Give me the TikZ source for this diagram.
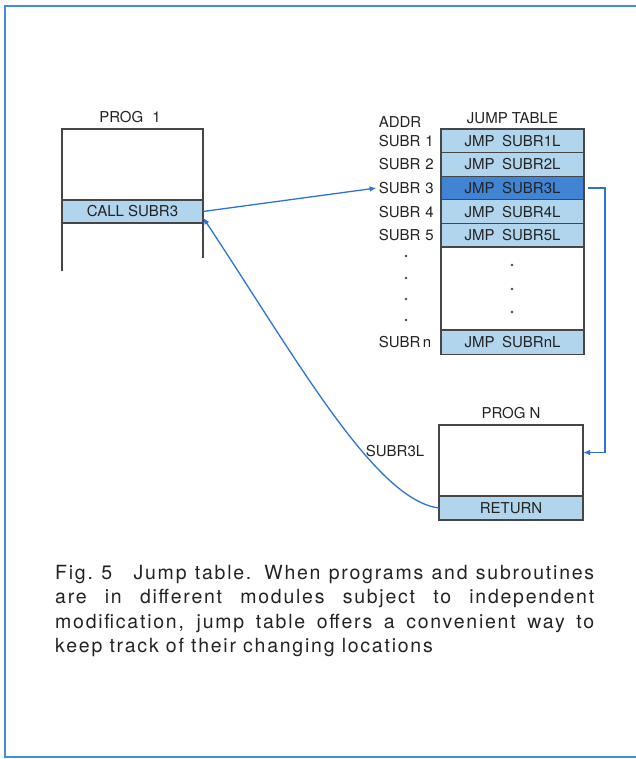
\documentclass[tikz,border=0pt]{standalone}
\usepackage{fontspec}
\setmainfont{TeX Gyre Heros}
\newfontfamily\capfont[LetterSpace=9]{TeX Gyre Heros}
\usetikzlibrary{arrows.meta, positioning}
\definecolor{frameblue}{RGB}{70,140,222}
\definecolor{linkblue}{RGB}{45,115,215}
\definecolor{cellbg}{RGB}{178,213,238}
\definecolor{cellhot}{RGB}{66,132,212}
\definecolor{rulegray}{RGB}{70,70,70}
\definecolor{inkgray}{RGB}{35,35,35}
\newcommand\diagfont{\fontsize{15}{18}\selectfont}
\tikzset{
  cell/.style={rectangle, draw=rulegray, line width=1.2pt, fill=cellbg, minimum width=143pt, minimum height=23.6pt, inner sep=0pt, outer sep=0pt, font=\diagfont, text=inkgray},
  emptycell/.style={cell, fill=white},
  addr/.style={font=\diagfont, text=inkgray, text width=56pt, align=left, inner sep=2pt},
  head/.style={font=\diagfont, text=inkgray, inner sep=5pt},
  wall/.style={draw=rulegray, line width=1.2pt},
  link/.style={-{Latex[length=7pt, width=5.5pt]}, line width=1.3pt, color=linkblue},
  caption/.style={text width=539pt, align=justify, inner sep=0pt, text=inkgray, font=\capfont\fontsize{19.5}{24.3}\selectfont},
}

\begin{document}
\begin{tikzpicture}[x=1pt, y=-1pt]
  \useasboundingbox (0,0) rectangle (636,759);
  \draw[frameblue, line width=2.5pt] (636,6) -- (5,6) -- (5,757) -- (636,757);

  % calling program
  \node[head] (prog1) at (130,117) {PROG\hspace{0.6em}1};
  \draw[wall] (62,271) -- (62,129) -- (203,129) -- (203,258);
  \node[cell, minimum width=141pt, minimum height=23pt] (call) at (132.5,211.5) {CALL SUBR3};

  % jump table
  \node[cell] (j1) at (512.5,140.8) {JMP\hspace{0.5em}SUBR1L};
  \node[cell, below=0pt of j1] (j2) {JMP\hspace{0.5em}SUBR2L};
  \node[cell, fill=cellhot, below=0pt of j2] (j3) {JMP\hspace{0.5em}SUBR3L};
  \node[cell, below=0pt of j3] (j4) {JMP\hspace{0.5em}SUBR4L};
  \node[cell, below=0pt of j4] (j5) {JMP\hspace{0.5em}SUBR5L};
  \node[emptycell, minimum height=83pt, below=0pt of j5] (jgap) {};
  \node[cell, minimum height=24.5pt, below=0pt of jgap] (jn) {JMP\hspace{0.5em}SUBRnL};
  \node[head, above=0pt of j1] (jhead) {JUMP TABLE};

  \node[addr, left=4pt of j1] (a1) {SUBR~1};
  \node[addr, left=4pt of j2] (a2) {SUBR~2};
  \node[addr, left=4pt of j3] (a3) {SUBR~3};
  \node[addr, left=4pt of j4] (a4) {SUBR~4};
  \node[addr, left=4pt of j5] (a5) {SUBR~5};
  \node[addr, left=4pt of jn] (an) {SUBR\,n};
  \node[addr, above=3pt of a1] (ahead) {ADDR};
  \foreach \y in {256,278,299,320} \fill[rulegray] (406,\y) circle (1.3pt);
  \foreach \y in {265,289,312} \fill[rulegray] (512,\y) circle (1.3pt);

  % called module
  \node[emptycell, minimum width=144pt, minimum height=71pt] (pn) at (511,460.5) {};
  \node[cell, minimum width=144pt, minimum height=24pt, below=0pt of pn] (ret) {RETURN};
  \node[head, above=1pt of pn] (progn) {PROG N};
  \node[head] (s3l) at (395,451) {SUBR3L};

  \draw[link] (call.east) -- (a3.west);
  \draw[link] ([xshift=4pt]j3.east) -- ++(17,0) |- ([yshift=8pt]pn.east);
  \draw[link] (ret.west) .. controls +(-64,-8) and +(94,142) .. ([yshift=-6pt]call.east);

  \node[caption, anchor=north west] (cap) at (55,565) {Fig.~5\hspace{1.1em}Jump table. When programs and subroutines\linebreak are in different modules subject to independent\linebreak modification, jump table offers a convenient way to\linebreak keep track of their changing locations};
\end{tikzpicture}
\end{document}
